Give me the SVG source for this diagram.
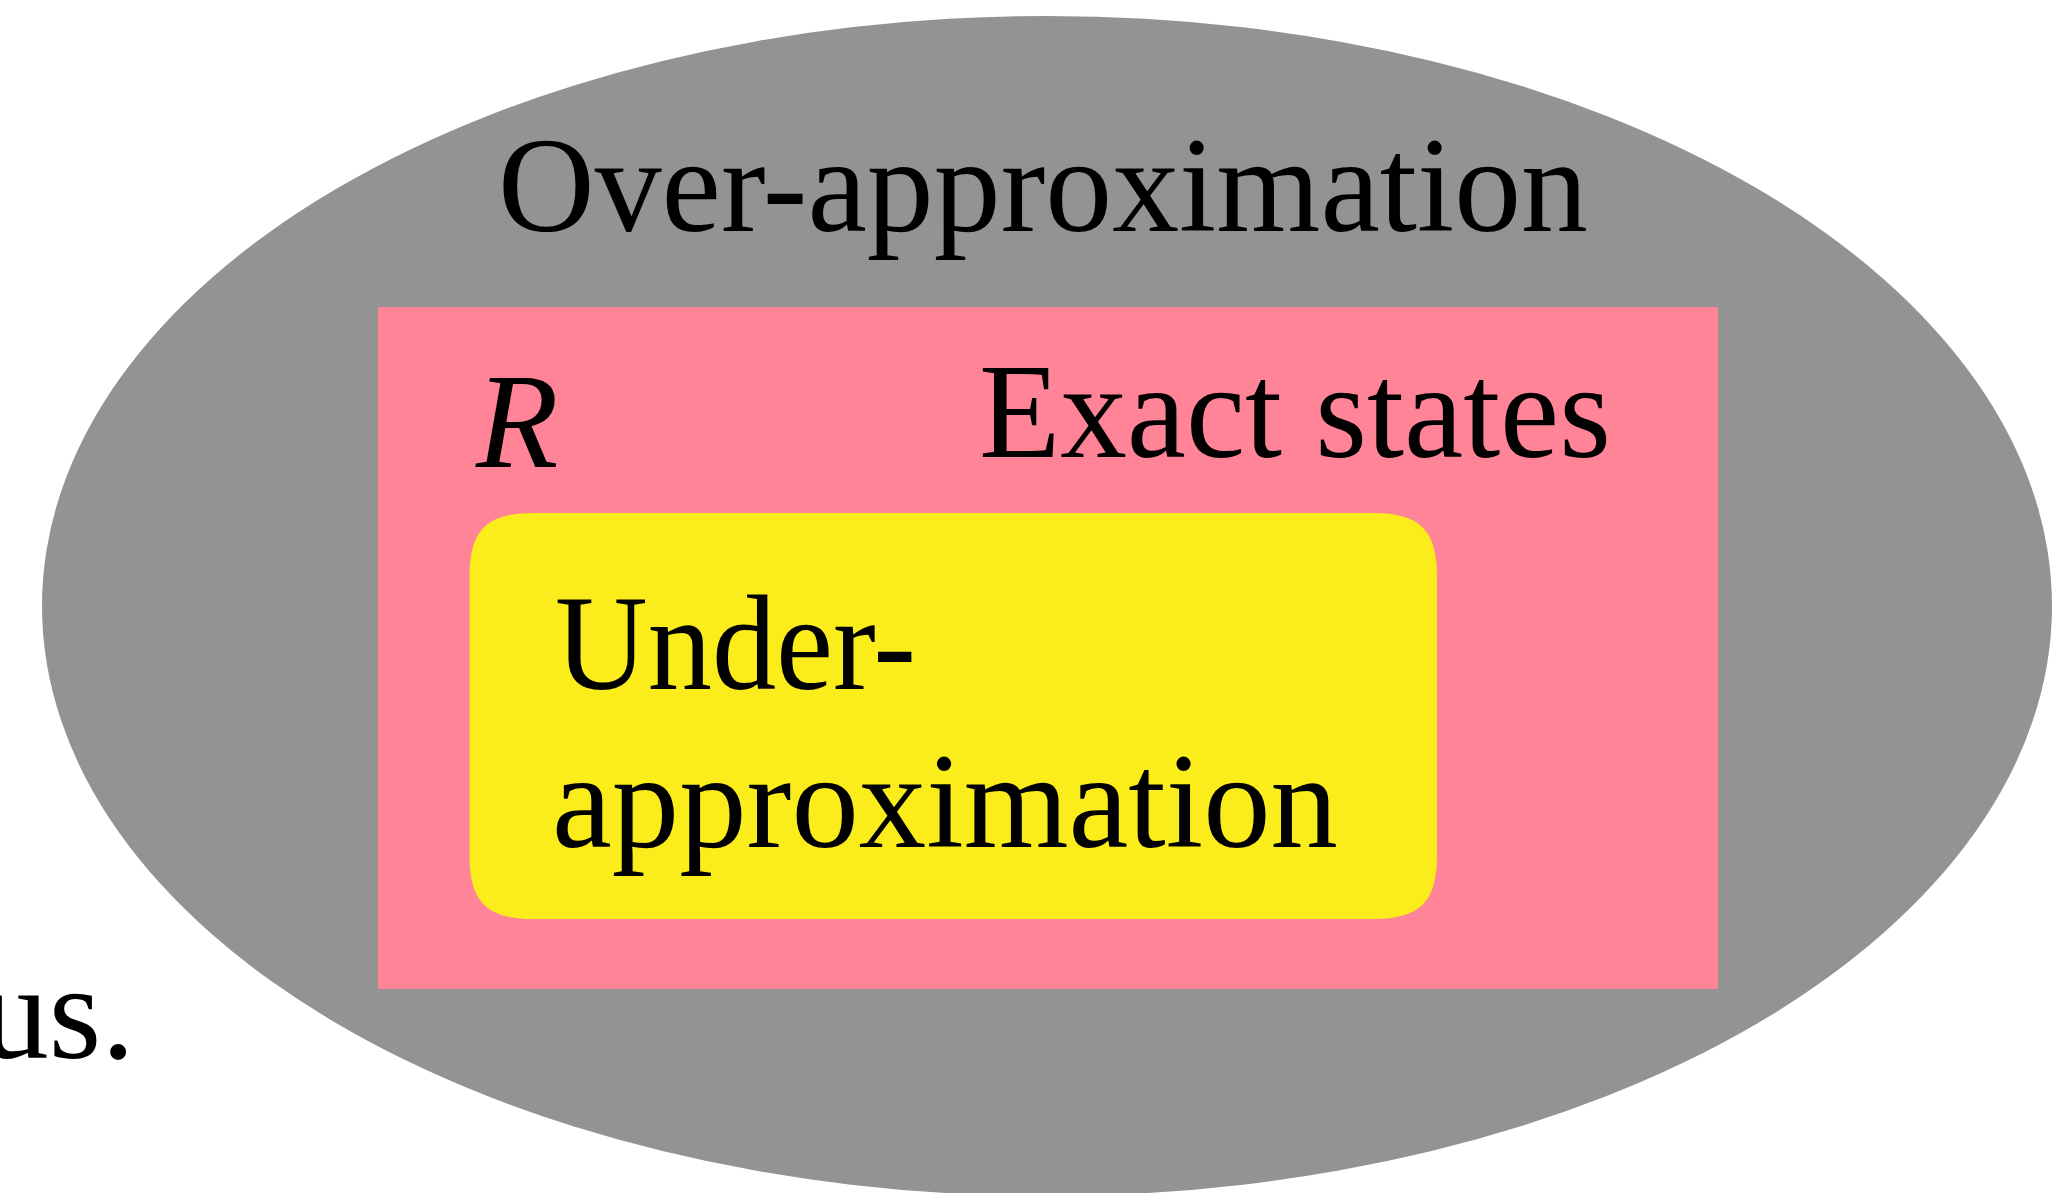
<svg xmlns="http://www.w3.org/2000/svg" width="2054" height="1193" viewBox="0 0 2054 1193">
  <style>
    .lbl { font-family: "Liberation Serif", "Times New Roman", serif; font-size: 135px; fill: #000000; }
    .it { font-style: italic; }
  </style>
  <rect x="0" y="0" width="2054" height="1193" fill="#ffffff"/>
  <text class="lbl" x="135" y="1058" text-anchor="end">us.</text>
  <g id="over-approximation">
    <ellipse cx="1047" cy="606" rx="1005" ry="590" fill="#939393"/>
    <text class="lbl" x="498" y="231" textLength="1090" lengthAdjust="spacingAndGlyphs">Over-approximation</text>
  </g>
  <g id="exact-states">
    <rect x="378" y="307" width="1340" height="682" fill="#ff8497"/>
    <text class="lbl it" x="476" y="467">R</text>
    <text class="lbl" x="979" y="457" textLength="632" lengthAdjust="spacingAndGlyphs">Exact states</text>
  </g>
  <g id="under-approximation">
    <path d="M 533.5,513 H 1373 C 1420,513 1437,530 1437,577 V 855 C 1437,902 1420,919 1373,919 H 533.5 C 486.5,919 469.5,902 469.5,855 V 577 C 469.5,530 486.5,513 533.5,513 Z" fill="#fbec1b"/>
    <text class="lbl" x="555" y="689" textLength="361" lengthAdjust="spacingAndGlyphs">Under-</text>
    <text class="lbl" x="552" y="847" textLength="786" lengthAdjust="spacingAndGlyphs">approximation</text>
  </g>
  <g id="connectors"/>
</svg>
